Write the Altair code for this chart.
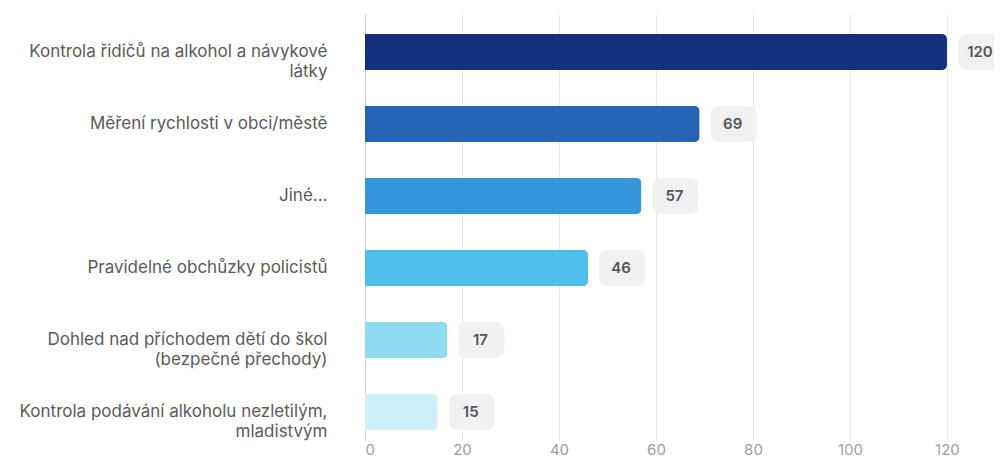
import altair as alt
import pandas as pd

categories = [
    "Kontrola řidičů na alkohol a návykové\nlátky",
    "Měření rychlosti v obci/městě",
    "Jiné...",
    "Pravidelné obchůzky policistů",
    "Dohled nad příchodem dětí do škol\n(bezpečné přechody)",
    "Kontrola podávání alkoholu nezletilým,\nmladistvým",
]
values = [120, 69, 57, 46, 17, 15]
colors = ["#12307e", "#2563b4", "#3497dc", "#4ebfea", "#8fdbf2", "#cff0f9"]
tick_values = [0, 20, 40, 60, 80, 100, 120]

df = pd.DataFrame({"category": categories, "value": values})

x_scale = alt.Scale(domain=[0, 129.7], nice=False, zero=True)
y_scale = alt.Scale(paddingInner=0.5, paddingOuter=0.2083, align=0.667)
y_enc = alt.Y(
    "category:N",
    sort=categories,
    scale=y_scale,
    axis=alt.Axis(
        title=None,
        ticks=False,
        domain=True,
        domainColor="#d4d4d8",
        labelPadding=38,
        labelFont="Inter",
        labelFontSize=17,
        labelColor="#5a5a5a",
        labelLimit=400,
        labelLineHeight=20,
        labelExpr="split(datum.label, '\\n')",
    ),
)

bars = alt.Chart(df).mark_bar(cornerRadiusEnd=5).encode(
    x=alt.X(
        "value:Q",
        scale=x_scale,
        axis=alt.Axis(
            title=None,
            values=tick_values,
            ticks=False,
            domain=False,
            grid=True,
            gridColor="#e8e8ea",
            labelFont="Inter",
            labelFontSize=15,
            labelColor="#a0a0a0",
            labelPadding=2,
        ),
    ),
    y=y_enc,
    color=alt.Color(
        "category:N",
        scale=alt.Scale(domain=categories, range=colors),
        legend=None,
    ),
)

badges = alt.Chart(df).mark_bar(
    xOffset=11, x2Offset=57, cornerRadius=8, color="#f1f1f2"
).encode(
    x=alt.X("value:Q", scale=x_scale),
    x2=alt.X2("value:Q"),
    y=alt.Y("category:N", sort=categories, scale=y_scale),
)

labels = alt.Chart(df).mark_text(
    dx=33, align="center", baseline="middle", font="Inter",
    fontSize=15, fontWeight=600, color="#555555"
).encode(
    x=alt.X("value:Q", scale=x_scale),
    y=alt.Y("category:N", sort=categories, scale=y_scale),
    text="value:Q",
)

chart = (
    alt.layer(bars, badges, labels)
    .properties(
        width=629,
        height=426,
        autosize=alt.AutoSizeParams(type="none"),
        padding={"left": 357, "top": 6, "right": 0, "bottom": 20},
    )
    .configure_view(stroke=None)
)

chart.save("out.html", embed_options={"renderer": "svg", "actions": False})
